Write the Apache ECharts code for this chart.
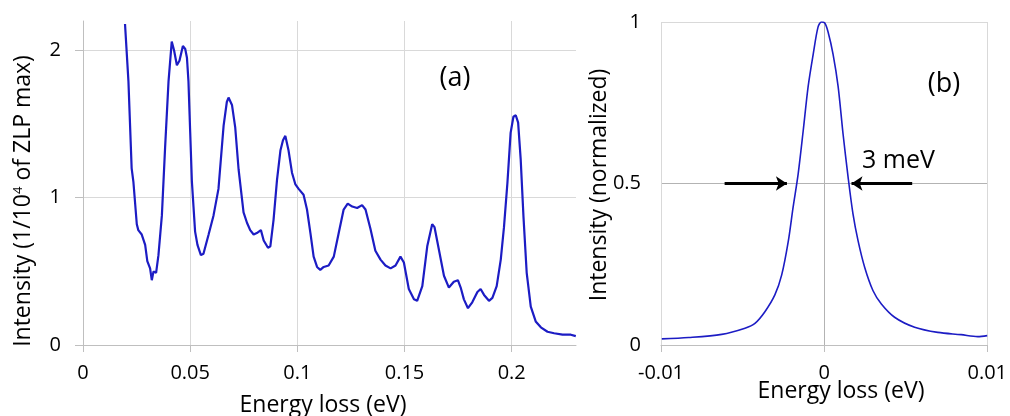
<!DOCTYPE html>
<html><head><meta charset="utf-8">
<script src="https://cdn.jsdelivr.net/npm/echarts@6/dist/echarts.min.js"></script>
<style>html,body{margin:0;padding:0;background:#fff}#c{width:1010px;height:416px}</style>
</head><body><div id="c"></div>
<script>
// Panel (a): energy loss spectrum
const lossA = [0.0196,0.0212,0.0227,0.0235,0.0251,0.0258,0.0266,0.0274,0.0290,0.0300,0.0313,0.0321,0.0329,0.0341,0.0352,0.0368,0.0383,0.0399,0.0414,0.0425,0.0438,0.0450,0.0466,0.0477,0.0485,0.0492,0.0500,0.0508,0.0523,0.0534,0.0550,0.0562,0.0586,0.0609,0.0632,0.0656,0.0671,0.0679,0.0695,0.0710,0.0726,0.0749,0.0765,0.0780,0.0796,0.0811,0.0830,0.0843,0.0863,0.0874,0.0889,0.0905,0.0921,0.0933,0.0944,0.0959,0.0975,0.0991,0.1006,0.1029,0.1045,0.1061,0.1076,0.1092,0.1107,0.1123,0.1146,0.1170,0.1193,0.1216,0.1235,0.1256,0.1279,0.1302,0.1318,0.1341,0.1364,0.1388,0.1411,0.1435,0.1458,0.1481,0.1497,0.1520,0.1544,0.1559,0.1583,0.1606,0.1629,0.1640,0.1660,0.1684,0.1707,0.1730,0.1749,0.1762,0.1777,0.1796,0.1816,0.1840,0.1855,0.1871,0.1894,0.1910,0.1930,0.1949,0.1964,0.1980,0.1995,0.2008,0.2019,0.2030,0.2042,0.2055,0.2070,0.2089,0.2112,0.2136,0.2167,0.2198,0.2237,0.2276,0.2299];
const intensityA = [2.18,1.79,1.20,1.11,0.82,0.78,0.79,0.75,0.68,0.57,0.52,0.44,0.50,0.49,0.61,0.88,1.34,1.79,2.06,2.00,1.90,1.93,2.03,2.01,1.95,1.79,1.45,1.11,0.77,0.68,0.61,0.62,0.75,0.88,1.06,1.49,1.65,1.68,1.63,1.48,1.19,0.90,0.83,0.78,0.75,0.76,0.78,0.71,0.66,0.67,0.85,1.12,1.32,1.39,1.42,1.32,1.17,1.09,1.06,1.02,0.92,0.76,0.60,0.53,0.51,0.53,0.54,0.60,0.76,0.92,0.96,0.94,0.93,0.95,0.92,0.79,0.64,0.58,0.54,0.52,0.54,0.60,0.56,0.38,0.31,0.30,0.40,0.67,0.82,0.80,0.65,0.47,0.39,0.43,0.44,0.39,0.31,0.25,0.29,0.36,0.38,0.34,0.30,0.32,0.40,0.58,0.80,1.10,1.44,1.55,1.56,1.51,1.26,0.87,0.49,0.26,0.16,0.12,0.09,0.08,0.07,0.07,0.06];

// Panel (b): zero-loss peak
const lossB = [-0.00995,-0.0083,-0.00628,-0.00485,-0.00424,-0.00363,-0.00302,-0.0026,-0.0022,-0.0019,-0.00159,-0.00128,-0.00098,-0.00067,-0.00037,-0.00016,0.00004,0.00024,0.00055,0.00086,0.00116,0.00147,0.00177,0.00208,0.00249,0.0030,0.00351,0.00432,0.00555,0.00697,0.0084,0.00942,0.0100];
const intensityB = [0.019,0.023,0.033,0.052,0.067,0.103,0.155,0.217,0.32,0.427,0.53,0.664,0.80,0.90,0.985,1.0,0.997,0.97,0.90,0.80,0.654,0.52,0.406,0.323,0.24,0.168,0.127,0.086,0.055,0.039,0.032,0.026,0.029];

const xTicksA = [0, 0.05, 0.1, 0.15, 0.2];
const yTicksA = [0, 1, 2];
const xTicksB = [-0.01, 0, 0.01];
const yTicksB = [0, 0.5, 1];

const titleA_x = 'Energy loss (eV)';
const titleB_x = 'Energy loss (eV)';
const titleB_y = 'Intensity (normalized)';
const fwhmLabel = '3 meV';

const FONT = '"Open Sans", "Noto Sans", sans-serif';
const LINE = '#1c1cc4';
const GRID = '#d9d9d9';
const AXIS = '#bfbfbf';

const chart = echarts.init(document.getElementById('c'), null, {renderer: 'canvas'});
const labelStyle = {color: '#000', fontSize: 20, fontFamily: FONT};

chart.setOption({
  animation: false,
  backgroundColor: '#fff',
  grid: [
    {left: 83, top: 21, width: 493, height: 324},
    {left: 661, top: 22, width: 327, height: 323}
  ],
  xAxis: [
    {gridIndex: 0, type: 'value', min: 0, max: 0.23, interval: 0.05,
     axisLine: {show: true, onZero: false, lineStyle: {color: AXIS, width: 1}},
     axisTick: {show: true, length: 7, lineStyle: {color: AXIS}, customValues: xTicksA},
     axisLabel: Object.assign({margin: 18, customValues: xTicksA, formatter: v => String(v)}, labelStyle),
     splitLine: {show: true, lineStyle: {color: GRID, width: 1}}},
    {gridIndex: 1, type: 'value', min: -0.01, max: 0.01, interval: 0.01,
     axisLine: {show: true, onZero: false, lineStyle: {color: AXIS, width: 1}},
     axisTick: {show: true, length: 7, lineStyle: {color: AXIS}, customValues: xTicksB},
     axisLabel: Object.assign({margin: 18, customValues: xTicksB, formatter: v => String(v)}, labelStyle),
     splitLine: {show: true, lineStyle: {color: [GRID, '#b3b3b3', GRID], width: 1}}}
  ],
  yAxis: [
    {gridIndex: 0, type: 'value', min: 0, max: 2.2, interval: 1,
     axisLine: {show: true, onZero: false, lineStyle: {color: AXIS, width: 1}},
     axisTick: {show: true, length: 8, lineStyle: {color: AXIS}, customValues: yTicksA},
     axisLabel: Object.assign({margin: 22, customValues: yTicksA, formatter: v => String(v)}, labelStyle),
     splitLine: {show: true, lineStyle: {color: GRID, width: 1}}},
    {gridIndex: 1, type: 'value', min: 0, max: 1, interval: 0.5,
     axisLine: {show: false},
     axisTick: {show: false},
     axisLabel: Object.assign({margin: 20, customValues: yTicksB, formatter: v => String(v)}, labelStyle),
     splitLine: {show: true, lineStyle: {color: [GRID, '#b3b3b3', GRID], width: 1}}}
  ],
  series: [
    {type: 'line', xAxisIndex: 0, yAxisIndex: 0, showSymbol: false, smooth: false,
     lineStyle: {color: LINE, width: 2.2}, itemStyle: {color: LINE},
     data: lossA.map((x, i) => [x, intensityA[i]])},
    {type: 'line', xAxisIndex: 1, yAxisIndex: 1, showSymbol: false, smooth: 0.3,
     lineStyle: {color: LINE, width: 1.6}, itemStyle: {color: LINE},
     data: lossB.map((x, i) => [x, intensityB[i]]),
     markLine: {silent: true, symbol: ['none', 'arrow'], symbolSize: [11, 11],
       label: {show: false},
       lineStyle: {color: '#000', width: 3, type: 'solid'},
       data: [
         [{coord: [-0.0061, 0.5]}, {coord: [-0.00228, 0.5]}],
         [{coord: [0.0054, 0.5]}, {coord: [0.00168, 0.5]}]
       ]}}
  ],
  graphic: [
    {type: 'text', x: 23, y: 201, rotation: Math.PI / 2,
     style: {text: '{t|Intensity (1/10}{s|4}{t| of ZLP max)}', align: 'center', verticalAlign: 'middle',
       rich: {t: {fontSize: 23, fontFamily: FONT, fill: '#000'},
              s: {fontSize: 13, fontFamily: FONT, fill: '#000', verticalAlign: 'top', padding: [0, 0, 10, 0]}}}},
    {type: 'text', x: 323, y: 405,
     style: {text: titleA_x, fontSize: 23, fontFamily: FONT, fill: '#000', align: 'center', verticalAlign: 'middle'}},
    {type: 'text', x: 599, y: 185, rotation: Math.PI / 2,
     style: {text: titleB_y, fontSize: 23, fontFamily: FONT, fill: '#000', align: 'center', verticalAlign: 'middle'}},
    {type: 'text', x: 841, y: 391,
     style: {text: titleB_x, fontSize: 23, fontFamily: FONT, fill: '#000', align: 'center', verticalAlign: 'middle'}},
    {type: 'text', x: 455, y: 78,
     style: {text: '(a)', fontSize: 27, fontFamily: FONT, fill: '#000', align: 'center', verticalAlign: 'middle'}},
    {type: 'text', x: 944, y: 84,
     style: {text: '(b)', fontSize: 27, fontFamily: FONT, fill: '#000', align: 'center', verticalAlign: 'middle'}},
    {type: 'text', x: 862, y: 161,
     style: {text: fwhmLabel, fontSize: 25, fontFamily: FONT, fill: '#000', align: 'left', verticalAlign: 'middle'}}
  ]
});
</script>
</body></html>
